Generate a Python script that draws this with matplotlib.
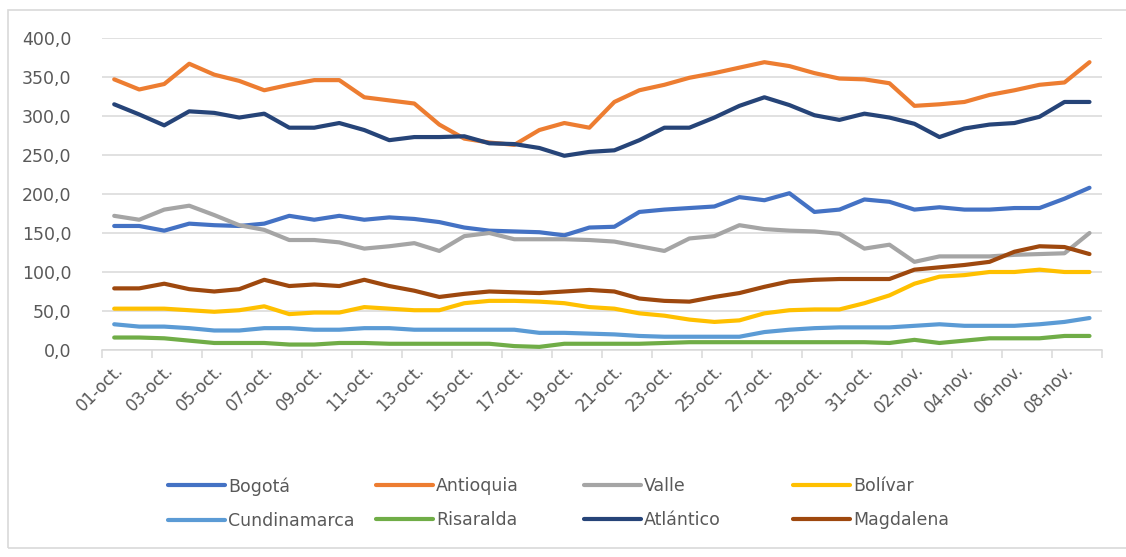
import matplotlib
matplotlib.use("Agg")
import matplotlib.pyplot as plt
from matplotlib.patches import Rectangle
from matplotlib.ticker import FixedLocator, FuncFormatter

dates = ["01-oct.", "02-oct.", "03-oct.", "04-oct.", "05-oct.", "06-oct.", "07-oct.", "08-oct.",
         "09-oct.", "10-oct.", "11-oct.", "12-oct.", "13-oct.", "14-oct.", "15-oct.", "16-oct.",
         "17-oct.", "18-oct.", "19-oct.", "20-oct.", "21-oct.", "22-oct.", "23-oct.", "24-oct.",
         "25-oct.", "26-oct.", "27-oct.", "28-oct.", "29-oct.", "30-oct.", "31-oct.", "01-nov.",
         "02-nov.", "03-nov.", "04-nov.", "05-nov.", "06-nov.", "07-nov.", "08-nov.", "09-nov."]

bogota = [159, 159, 153, 162, 160, 159, 162, 172, 167, 172, 167, 170, 168, 164, 157, 153, 152, 151, 147, 157,
          158, 177, 180, 182, 184, 196, 192, 201, 177, 180, 193, 190, 180, 183, 180, 180, 182, 182, 194, 208]
antioquia = [347, 334, 341, 367, 353, 345, 333, 340, 346, 346, 324, 320, 316, 289, 271, 266, 263, 282, 291, 285,
             318, 333, 340, 349, 355, 362, 369, 364, 355, 348, 347, 342, 313, 315, 318, 327, 333, 340, 343, 369]
valle = [172, 167, 180, 185, 173, 160, 154, 141, 141, 138, 130, 133, 137, 127, 146, 150, 142, 142, 142, 141,
         139, 133, 127, 143, 146, 160, 155, 153, 152, 149, 130, 135, 113, 120, 120, 120, 122, 123, 124, 150]
bolivar = [53, 53, 53, 51, 49, 51, 56, 46, 48, 48, 55, 53, 51, 51, 60, 63, 63, 62, 60, 55,
           53, 47, 44, 39, 36, 38, 47, 51, 52, 52, 60, 70, 85, 94, 96, 100, 100, 103, 100, 100]
cundinamarca = [33, 30, 30, 28, 25, 25, 28, 28, 26, 26, 28, 28, 26, 26, 26, 26, 26, 22, 22, 21,
                20, 18, 17, 17, 17, 17, 23, 26, 28, 29, 29, 29, 31, 33, 31, 31, 31, 33, 36, 41]
risaralda = [16, 16, 15, 12, 9, 9, 9, 7, 7, 9, 9, 8, 8, 8, 8, 8, 5, 4, 8, 8,
             8, 8, 9, 10, 10, 10, 10, 10, 10, 10, 10, 9, 13, 9, 12, 15, 15, 15, 18, 18]
atlantico = [315, 302, 288, 306, 304, 298, 303, 285, 285, 291, 282, 269, 273, 273, 274, 265, 264, 259, 249, 254,
             256, 269, 285, 285, 298, 313, 324, 314, 301, 295, 303, 298, 290, 273, 284, 289, 291, 299, 318, 318]
magdalena = [79, 79, 85, 78, 75, 78, 90, 82, 84, 82, 90, 82, 76, 68, 72, 75, 74, 73, 75, 77,
             75, 66, 63, 62, 68, 73, 81, 88, 90, 91, 91, 91, 103, 106, 109, 113, 126, 133, 132, 123]

series_names = ["Bogotá", "Antioquia", "Valle", "Bolívar", "Cundinamarca", "Risaralda", "Atlántico", "Magdalena"]
series_values = [bogota, antioquia, valle, bolivar, cundinamarca, risaralda, atlantico, magdalena]
colors = ["#4472C4", "#ED7D31", "#A5A5A5", "#FFC000", "#5B9BD5", "#70AD47", "#264478", "#9E480E"]

W, H = 1126, 557
fig = plt.figure(figsize=(W / 100, H / 100), dpi=100)
fig.patch.set_facecolor("white")

# chart-area border
fig.add_artist(Rectangle((8 / W, 1 - 548 / H), (1130 - 8) / W, (548 - 10) / H,
                         transform=fig.transFigure, fill=False, edgecolor="#d9d9d9", lw=1.2))

ax = fig.add_axes([101.7 / W, 1 - 350 / H, (1102 - 101.7) / W, (350 - 38) / H])
x = list(range(len(dates)))
lines = []
for name, vals, c in zip(series_names, series_values, colors):
    ln, = ax.plot(x, vals, color=c, lw=3.0, solid_joinstyle="round", solid_capstyle="round", label=name)
    lines.append(ln)

ax.set_xlim(-0.5, len(dates) - 0.5)
ax.set_ylim(0, 400)
ax.set_yticks(range(0, 401, 50))
ax.yaxis.set_major_formatter(FuncFormatter(lambda v, p: f"{v:.1f}".replace(".", ",")))
ax.grid(axis="y", color="#d9d9d9", lw=1.1)
ax.set_axisbelow(True)
for s in ["top", "right", "left"]:
    ax.spines[s].set_visible(False)
ax.spines["bottom"].set_color("#d9d9d9")
ax.spines["bottom"].set_linewidth(1.1)

ax.set_xticks(x[::2])
ax.set_xticklabels(dates[::2], rotation=45, ha="right", va="top", rotation_mode="anchor")
ax.xaxis.set_minor_locator(FixedLocator([i - 0.5 for i in range(0, len(dates) + 1, 2)]))
ax.tick_params(axis="x", which="major", length=0, pad=8, labelsize=12, labelcolor="#595959")
ax.tick_params(axis="x", which="minor", length=6, color="#d9d9d9", width=1.1)
ax.tick_params(axis="y", length=0, pad=22, labelsize=12.5, labelcolor="#595959")

col_x = [168, 376, 584, 793]
for ci in range(4):
    idx = [ci, ci + 4]
    fig.legend([lines[i] for i in idx], [series_names[i] for i in idx],
               loc="upper left", bbox_to_anchor=(col_x[ci] / W, 1 - 477 / H),
               frameon=False, fontsize=12.5, handlelength=3.3, handletextpad=0.15,
               borderpad=0, borderaxespad=0, labelspacing=0.95, labelcolor="#595959")

fig.savefig("out.png", dpi=100, facecolor="white")
